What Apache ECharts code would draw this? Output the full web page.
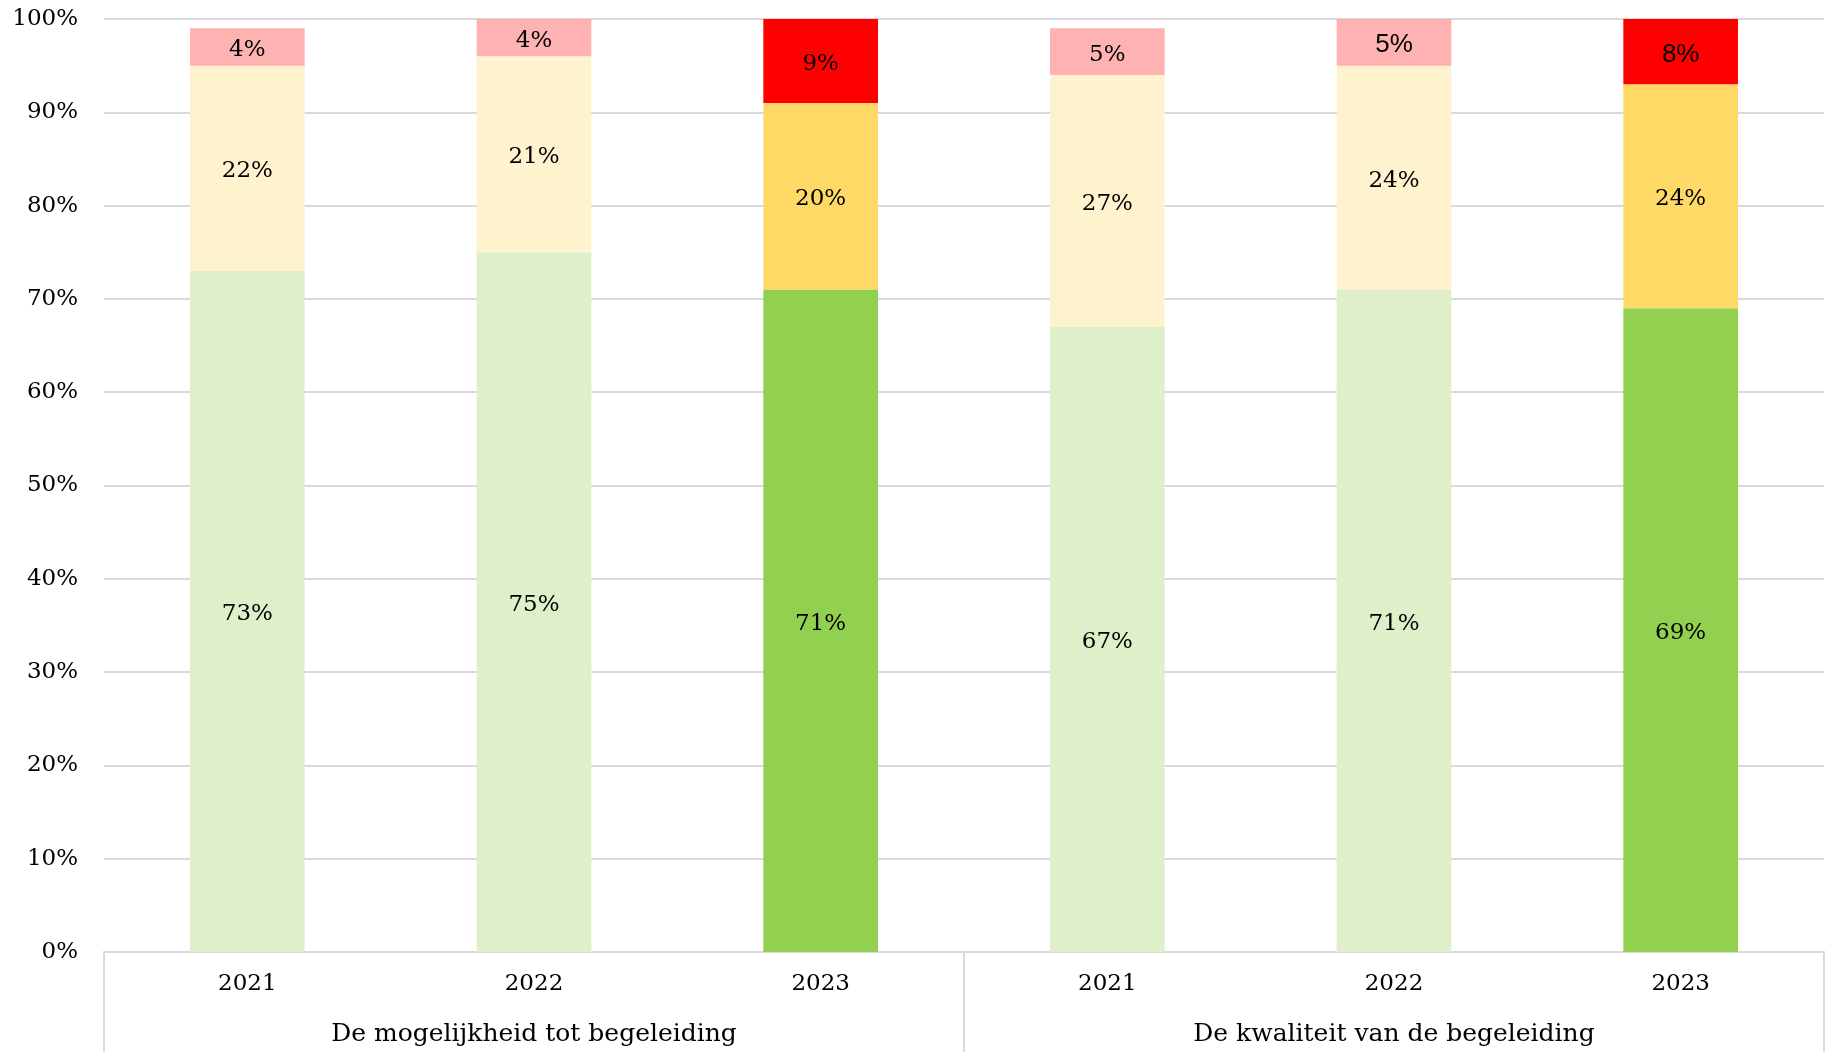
<!DOCTYPE html>
<html>
<head>
<meta charset="utf-8">
<title>Begeleiding</title>
<script src="https://cdn.jsdelivr.net/npm/echarts@6/dist/echarts.min.js"></script>
<style>
  html, body { margin: 0; padding: 0; background: #fff; }
  #chart { width: 1834px; height: 1052px; }
</style>
</head>
<body>
<div id="chart"></div>
<script>
// categorieën
var years = ['2021', '2022', '2023', '2021', '2022', '2023'];
var groups = ['De mogelijkheid tot begeleiding', 'De kwaliteit van de begeleiding'];
var yTicks = [0, 10, 20, 30, 40, 50, 60, 70, 80, 90, 100];

// waarden (%)
var groen = [73, 75, 71, 67, 71, 69];
var geel  = [22, 21, 20, 27, 24, 24];
var rood  = [4, 4, 9, 5, 5, 8];

// kleuren: lichte tint voor 2021/2022, volle tint voor 2023
var colGroen = ['#DEEFCA', '#DEEFCA', '#92D050', '#DEEFCA', '#DEEFCA', '#92D050'];
var colGeel  = ['#FFF2CF', '#FFF2CF', '#FFD966', '#FFF2CF', '#FFF2CF', '#FFD966'];
var colRood  = ['#FFB2B2', '#FFB2B2', '#FF0000', '#FFB2B2', '#FFB2B2', '#FF0000'];
// een paar labels staan in een schreefloos lettertype
var roodFont = ['DejaVu Serif', 'DejaVu Serif', 'DejaVu Serif', 'DejaVu Serif', 'Liberation Sans', 'Liberation Sans'];

var serif = 'DejaVu Serif';

function items(vals, cols, fonts) {
    return vals.map(function (v, i) {
        var it = { value: v, itemStyle: { color: cols[i] } };
        if (fonts) it.label = { fontFamily: fonts[i], fontSize: fonts[i] === serif ? 23 : 26 };
        return it;
    });
}

function serie(name, vals, cols, fonts) {
    return {
        name: name,
        type: 'bar',
        stack: 'totaal',
        xAxisIndex: 0,
        barWidth: '40%',
        data: items(vals, cols, fonts),
        label: {
            show: true,
            position: 'inside',
            color: '#000',
            fontFamily: serif,
            fontSize: 23,
            offset: [0, 3],
            formatter: '{c}%'
        },
        emphasis: { disabled: true }
    };
}

var chart = echarts.init(document.getElementById('chart'), null, { renderer: 'canvas' });

chart.setOption({
    backgroundColor: '#fff',
    animation: false,
    grid: { left: 104, right: 10, top: 19, bottom: 100 },
    xAxis: [
        {
            type: 'category',
            data: years,
            position: 'bottom',
            axisLine: { show: true, lineStyle: { color: '#D9D9D9', width: 2 } },
            axisTick: { show: false },
            axisLabel: { color: '#000', fontFamily: serif, fontSize: 23, margin: 21 }
        },
        {
            type: 'category',
            data: groups,
            position: 'bottom',
            axisLine: { show: false },
            axisTick: {
                show: true,
                length: 110,
                interval: 0,
                lineStyle: { color: '#D9D9D9', width: 2 }
            },
            axisLabel: { color: '#000', fontFamily: serif, fontSize: 25, margin: 70 }
        }
    ],
    yAxis: {
        type: 'value',
        min: yTicks[0],
        max: yTicks[yTicks.length - 1],
        interval: 10,
        axisLine: { show: false },
        axisTick: { show: false },
        splitLine: { lineStyle: { color: '#D9D9D9', width: 2 } },
        axisLabel: {
            color: '#000',
            fontFamily: serif,
            fontSize: 23,
            margin: 26,
            formatter: '{value}%'
        }
    },
    series: [
        serie('Groen', groen, colGroen),
        serie('Geel', geel, colGeel),
        serie('Rood', rood, colRood, roodFont)
    ]
});
</script>
</body>
</html>
